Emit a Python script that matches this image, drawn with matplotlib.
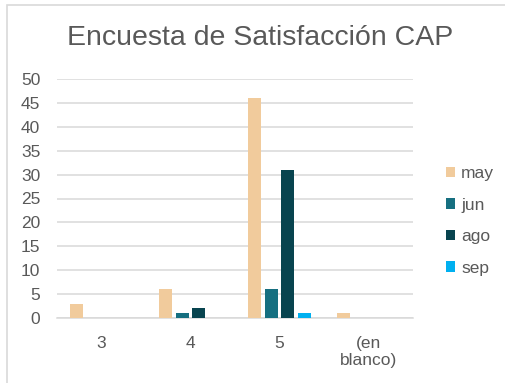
import numpy as np
import matplotlib.pyplot as plt
from matplotlib.patches import Rectangle

categories = ['3', '4', '5', '(en\nblanco)']
months = ['may', 'jun', 'ago', 'sep']
may = [3, 6, 46, 1]
jun = [0, 1, 6, 0]
ago = [0, 2, 31, 0]
sep = [0, 0, 1, 0]
colors = ['#F1CB9C', '#166F80', '#08444F', '#00B0F0']

plt.rcParams['font.family'] = ['Liberation Sans', 'DejaVu Sans']
text_gray = '#595959'

fig = plt.figure(figsize=(5.05, 3.83), dpi=100)
W, H = 505, 383

# chart frame, only top and left edges are in view
fig.patches.append(Rectangle((7 / W, -0.1), 1.2, (H - 5) / H + 0.1,
                             transform=fig.transFigure, fill=False,
                             edgecolor='#D9D9D9', linewidth=1.2))

ax = fig.add_axes([57 / W, (H - 318) / H, (413 - 57) / W, (318 - 79) / H])

x = np.arange(len(categories))
step = 0.186
width = 0.148
for i, (vals, lab, c) in enumerate(zip([may, jun, ago, sep], months, colors)):
    ax.bar(x + (i - 1.5) * step, vals, width, color=c, label=lab, zorder=3)

ax.set_xlim(-0.5, len(categories) - 0.5)
ax.set_ylim(0, 50)
ax.set_yticks(range(0, 51, 5))
ax.set_xticks(x)
ax.set_xticklabels(categories, linespacing=1.15)
ax.yaxis.grid(True, color='#D9D9D9', linewidth=1.1, zorder=0)
ax.set_axisbelow(True)
for s in ['top', 'right', 'left']:
    ax.spines[s].set_visible(False)
ax.spines['bottom'].set_color('#D9D9D9')
ax.spines['bottom'].set_linewidth(1.1)
ax.tick_params(axis='both', length=0, colors=text_gray, labelsize=12.5)
ax.tick_params(axis='y', pad=12)
ax.tick_params(axis='x', pad=13)

fig.text(260 / W, 1 - 38 / H, 'Encuesta de Satisfacción CAP', ha='center',
         va='center', fontsize=20.5, color=text_gray)

ax.legend(loc='center left', bbox_to_anchor=(430 / W, 1 - 221 / H),
          bbox_transform=fig.transFigure, frameon=False, fontsize=12.5,
          handlelength=0.55, handleheight=0.55, handletextpad=0.35,
          labelspacing=0.95, labelcolor=text_gray)

fig.savefig('out.png', dpi=100)
